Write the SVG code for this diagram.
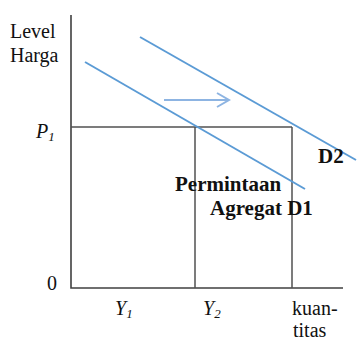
<svg xmlns="http://www.w3.org/2000/svg" width="358" height="342" viewBox="0 0 358 342">
<style>
text{font-family:'Liberation Serif','Times New Roman',serif;font-size:20px;fill:#111}
.i{font-style:italic}
.b{font-weight:bold;font-size:21px}
.ax{stroke:#404040;stroke-width:1.6;fill:none}
.gl{stroke:#505050;stroke-width:1.5;fill:none}
.dl{stroke:#5B9BD5;stroke-width:2;fill:none}
.ar{stroke:#8DB4E2;stroke-width:2;fill:none}
</style>
<rect width="358" height="342" fill="#fff"/>
<g id="axes">
<path class="ax" d="M71,15 V288 H343"/>
</g>
<g id="connectors">
<path class="gl" d="M71,127 H292"/>
<path class="gl" d="M195,127 V288"/>
<path class="gl" d="M292,127 V288" stroke="#707070"/>
<path class="ar" d="M164,100 H229 M217,93 L229,100 L217,107"/>
</g>
<g id="D1">
<line class="dl" x1="85" y1="62" x2="305" y2="189"/>
<text class="b" x="175" y="191">Permintaan</text>
<text class="b" x="210" y="215">Agregat D1</text>
</g>
<g id="D2">
<line class="dl" x1="140" y1="37" x2="356" y2="160"/>
<text class="b" x="318" y="163">D2</text>
</g>
<g id="labels">
<text x="10" y="38">Level</text>
<text x="10" y="62">Harga</text>
<text class="i" x="36" y="138">P<tspan font-size="13" dy="3">1</tspan></text>
<text x="47" y="290">0</text>
<text class="i" x="115" y="315">Y<tspan font-size="13" dy="3">1</tspan></text>
<text class="i" x="203" y="315">Y<tspan font-size="13" dy="3">2</tspan></text>
<text x="292" y="315">kuan-</text>
<text x="293" y="337">titas</text>
</g>
</svg>
